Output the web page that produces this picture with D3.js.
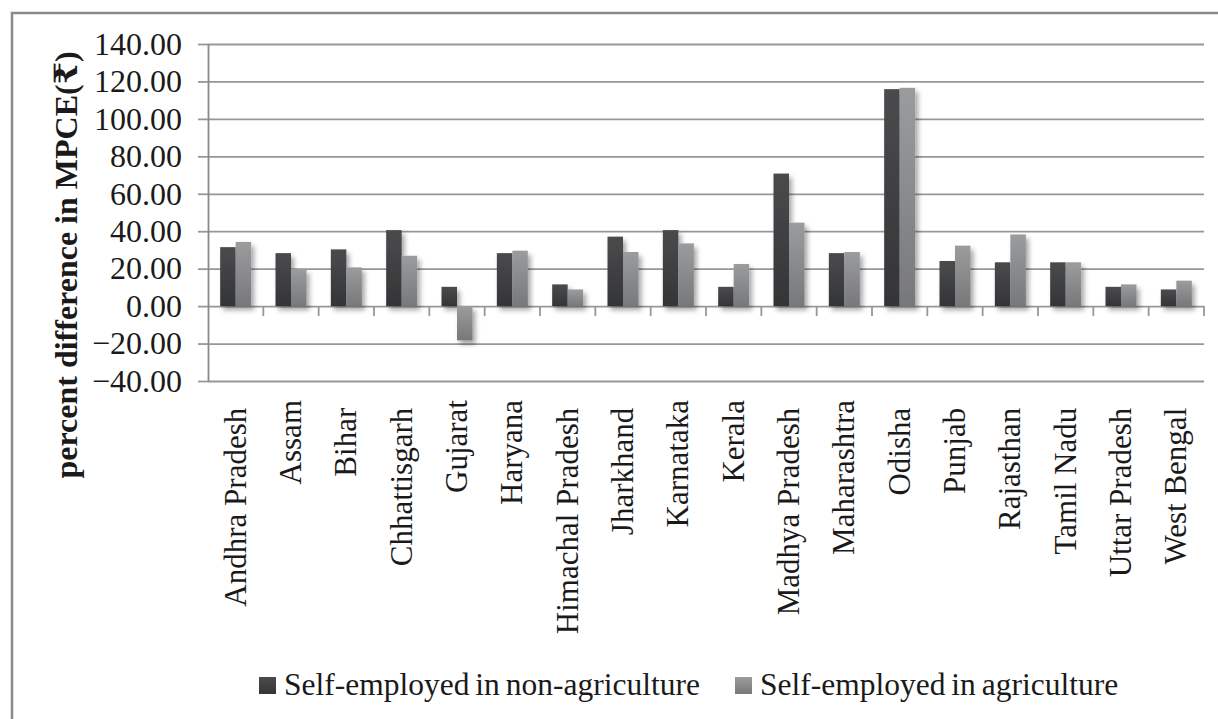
<!DOCTYPE html>
<html>
<head>
<meta charset="utf-8">
<script src="https://cdn.jsdelivr.net/npm/d3@7"></script>
<style>
  body { margin: 0; background: #fff; }
  text { font-family: "Liberation Serif", Tinos, "Times New Roman", "DejaVu Serif", serif; fill: #1a1a1a; }
  .cat text { white-space: pre; }
</style>
</head>
<body>
<div id="vis"></div>
<script>
// data
var states = ['Andhra Pradesh ', 'Assam', 'Bihar ', 'Chhattisgarh ', 'Gujarat', 'Haryana',
    'Himachal Pradesh ', 'Jharkhand ', 'Karnataka', 'Kerala', 'Madhya Pradesh ', 'Maharashtra',
    'Odisha ', 'Punjab ', 'Rajasthan ', 'Tamil Nadu ', 'Uttar Pradesh ', 'West Bengal '];
var nonAgri = [31.5, 28.3, 30.3, 40.6, 10.3, 28.3, 11.6, 37.1, 40.6, 10.3, 70.8, 28.3, 115.9, 24.1, 23.4, 23.4, 10.3, 8.9];
var agri    = [34.3, 19.7, 20.7, 26.9, -18.3, 29.6, 8.9, 28.9, 33.5, 22.5, 44.6, 28.9, 116.6, 32.3, 38.3, 23.4, 11.6, 13.6];
var seriesNames = ['Self-employed in non-agriculture', 'Self-employed in agriculture'];
var yTicks = [-40, -20, 0, 20, 40, 60, 80, 100, 120, 140];

var W = 1218, H = 719;
var plotL = 208, plotR = 1204, plotT = 44, plotB = 381;

var svg = d3.select('#vis').append('svg')
    .attr('width', W)
    .attr('height', H);

var defs = svg.append('defs');
var g1 = defs.append('linearGradient').attr('id', 'gDark').attr('x1', 0).attr('y1', 0).attr('x2', 0).attr('y2', 1);
g1.append('stop').attr('offset', '0%').attr('stop-color', '#4a4b4d');
g1.append('stop').attr('offset', '100%').attr('stop-color', '#343537');
var g2 = defs.append('linearGradient').attr('id', 'gLight').attr('x1', 0).attr('y1', 0).attr('x2', 0).attr('y2', 1);
g2.append('stop').attr('offset', '0%').attr('stop-color', '#9b9c9e');
g2.append('stop').attr('offset', '100%').attr('stop-color', '#77787a');
defs.append('filter').attr('id', 'shadow')
    .attr('x', '-30%').attr('y', '-10%').attr('width', '170%').attr('height', '130%')
  .append('feDropShadow')
    .attr('dx', 3).attr('dy', 4).attr('stdDeviation', 2.5)
    .attr('flood-color', '#000').attr('flood-opacity', 0.35);

// frame
svg.append('rect')
    .attr('x', 12).attr('y', 13)
    .attr('width', W).attr('height', H)
    .attr('fill', 'none')
    .attr('stroke', '#8a8a8a')
    .attr('stroke-width', 2.5);

var x = d3.scaleBand()
    .domain(states)
    .range([plotL, plotR])
    .paddingInner(0.44)
    .paddingOuter(0.22);

var x1 = d3.scaleBand()
    .domain([0, 1])
    .range([0, x.bandwidth()]);

var y = d3.scaleLinear()
    .domain([-40, 140])
    .range([plotB, plotT]);

// gridlines
svg.append('g')
    .attr('transform', 'translate(' + plotL + ',0)')
    .call(d3.axisLeft(y).tickValues(yTicks).tickSize(-(plotR - plotL)).tickFormat(''))
    .call(function (g) {
        g.select('.domain').remove();
        g.selectAll('line').attr('stroke', '#979797').attr('stroke-width', 1.8);
    });

// y axis with labels
svg.append('g')
    .attr('transform', 'translate(' + plotL + ',0)')
    .call(d3.axisLeft(y).tickValues(yTicks).tickSize(10).tickSizeOuter(0).tickPadding(16).tickFormat(d3.format('.2f')))
    .call(function (g) {
        g.attr('font-family', null);
        g.select('.domain').attr('stroke', '#8a8a8a').attr('stroke-width', 1.8);
        g.selectAll('line').attr('stroke', '#979797').attr('stroke-width', 1.8);
        g.selectAll('text').attr('font-size', 32).attr('fill', '#1a1a1a');
    });

// bars
var groups = svg.append('g')
    .attr('filter', 'url(#shadow)')
    .selectAll('g')
    .data(states)
    .enter()
    .append('g')
    .attr('transform', function (d) { return 'translate(' + x(d) + ',0)'; });

groups.selectAll('rect')
    .data(function (d, i) { return [nonAgri[i], agri[i]]; })
    .enter()
    .append('rect')
    .attr('x', function (d, j) { return x1(j); })
    .attr('width', x1.bandwidth())
    .attr('y', function (d) { return y(Math.max(0, d)); })
    .attr('height', function (d) { return Math.abs(y(d) - y(0)); })
    .attr('fill', function (d, j) { return j === 0 ? 'url(#gDark)' : 'url(#gLight)'; });

// category ticks on zero line
var step = x.step();
svg.append('g')
    .selectAll('line')
    .data(states)
    .enter()
    .append('line')
    .attr('x1', function (d) { return x(d) - x.paddingOuter() * step + step; })
    .attr('x2', function (d) { return x(d) - x.paddingOuter() * step + step; })
    .attr('y1', y(0))
    .attr('y2', y(0) + 10)
    .attr('stroke', '#979797')
    .attr('stroke-width', 1.8);

// category labels
svg.append('g')
    .attr('class', 'cat')
    .selectAll('text')
    .data(states)
    .enter()
    .append('text')
    .attr('transform', function (d) {
        return 'translate(' + (x(d) + x.bandwidth() / 2 + 10) + ',400) rotate(-90)';
    })
    .attr('text-anchor', 'end')
    .attr('font-size', 31)
    .text(function (d) { return d; });

// y title
svg.append('text')
    .attr('transform', 'translate(77,265) rotate(-90)')
    .attr('text-anchor', 'middle')
    .attr('font-size', 32)
    .attr('font-weight', 'bold')
    .text('percent difference in MPCE(₹)');

// legend
var legendX = [259, 735];
var legend = svg.append('g')
    .selectAll('g')
    .data(seriesNames)
    .enter()
    .append('g')
    .attr('transform', function (d, i) { return 'translate(' + legendX[i] + ',677)'; });

legend.append('rect')
    .attr('width', 17)
    .attr('height', 17)
    .attr('fill', function (d, i) { return i === 0 ? 'url(#gDark)' : 'url(#gLight)'; });

legend.append('text')
    .attr('x', 25)
    .attr('y', 18)
    .attr('font-size', 31.5)
    .attr('word-spacing', -2)
    .text(function (d) { return d; });
</script>
</body>
</html>
